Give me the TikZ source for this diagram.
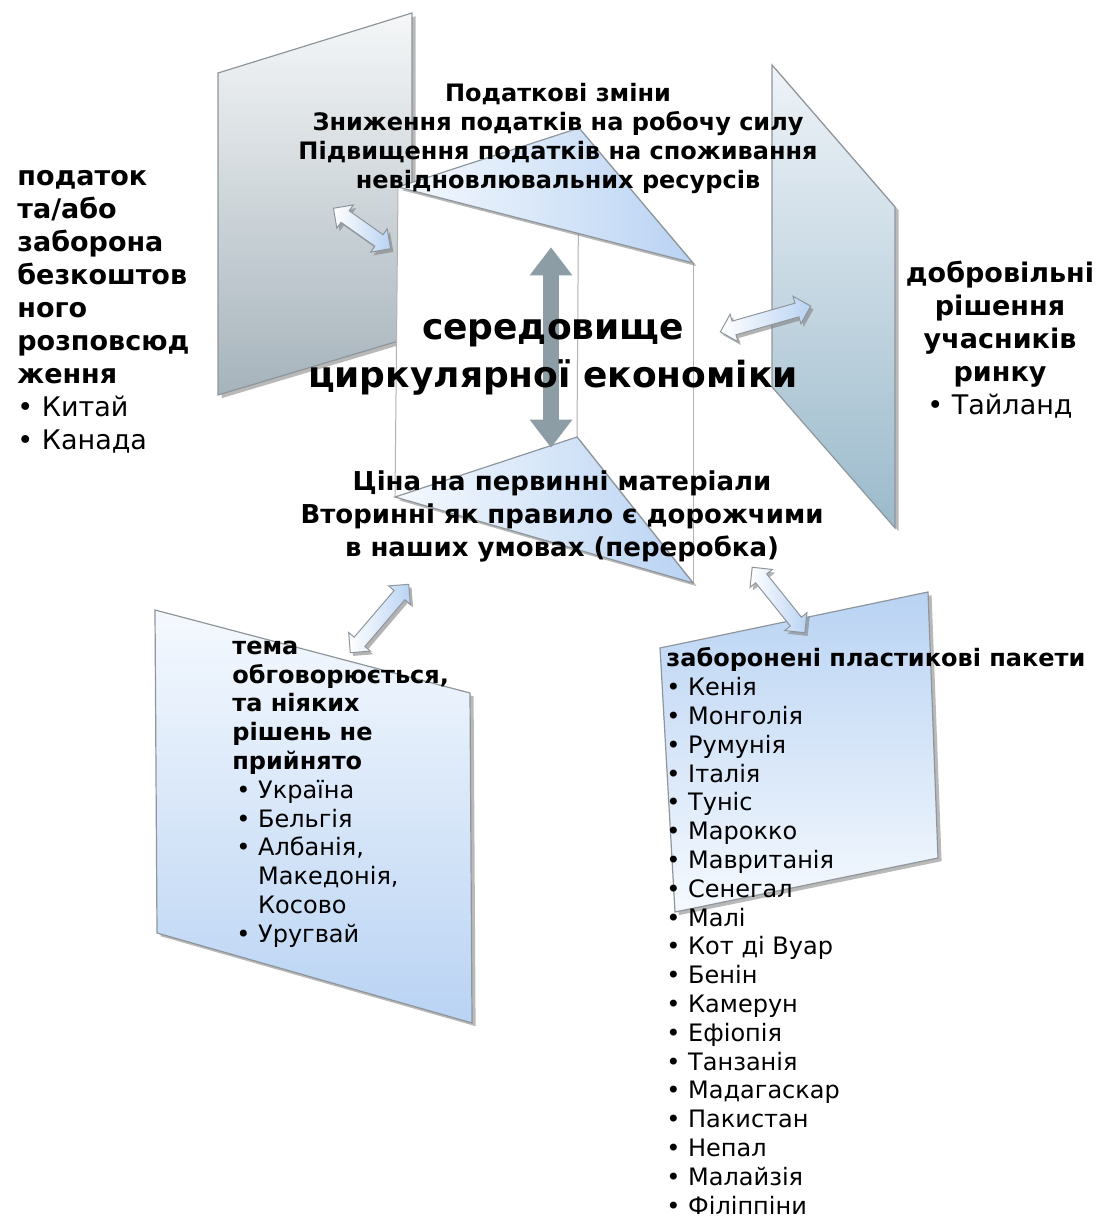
\documentclass[tikz,border=0pt]{standalone}
\usepackage{fontspec}
\setmainfont{DejaVu Sans}
\usepackage{tikz}
\usetikzlibrary{
    arrows.meta,
    positioning,
    shapes.arrows,
    shadows
}
\usepackage{xcolor}

\definecolor{graytop}{HTML}{F5F7F8}
\definecolor{graybot}{HTML}{A6B3BB}
\definecolor{steeltop}{HTML}{EEF3F8}
\definecolor{steelbot}{HTML}{9BBACB}
\definecolor{lightblue}{HTML}{B9D3F3}
\definecolor{paleblue}{HTML}{F5F9FE}
\definecolor{edgegray}{HTML}{8E969C}
\definecolor{arrowgray}{HTML}{8D9DA5}

\newcommand{\bul}{\textbullet\ }

\begin{document}
\begin{tikzpicture}[
        x=0.5pt, y=-0.5pt,
        panel/.style={
            draw=edgegray,
            line width=0.6pt,
            drop shadow={shadow xshift=1.8pt, shadow yshift=-1.6pt, opacity=0.55}
        },
        prism/.style={
            draw=black!30,
            line width=0.5pt
        },
        lightarrow/.style={
            double arrow,
            draw=edgegray,
            line width=0.5pt,
            left color=white,
            right color=lightblue,
            inner xsep=0pt,
            inner ysep=3.3pt,
            double arrow head extend=3.6pt,
            drop shadow={shadow xshift=1.4pt, shadow yshift=-1.6pt, opacity=0.6}
        },
        grayarrow/.style={
            double arrow,
            fill=arrowgray,
            inner xsep=0pt,
            inner ysep=3.75pt,
            double arrow head extend=6.75pt,
            double arrow tip angle=75
        },
        title/.style={
            align=center,
            inner sep=0pt,
            font=\fontsize{12}{14.5}\selectfont\bfseries
        },
        list/.style={
            align=left,
            inner sep=0pt,
            font=\fontsize{12}{14.4}\selectfont
        }
    ]
    \useasboundingbox (0,0) rectangle (1100,1218);

    % panels
    \draw[panel, top color=graytop, bottom color=graybot]
        (218,73) -- (412,13) -- (412,337) -- (218,395) -- cycle;
    \draw[panel, top color=steeltop, bottom color=steelbot]
        (772,65) -- (895,207) -- (895,528) -- (772,387) -- cycle;
    \draw[panel, top color=paleblue, bottom color=lightblue]
        (155,610) -- (470,693) -- (472,1023) -- (157,933) -- cycle;
    \draw[panel, top color=lightblue, bottom color=paleblue]
        (660,648) -- (928,592) -- (938,858) -- (675,912) -- cycle;

    % prism
    \fill[white] (398,187) -- (693,263) -- (693,583) -- (395,497) -- cycle;
    \draw[prism] (398,187) -- (395,497);
    \draw[prism] (579,128) -- (577,437);
    \draw[prism] (693,263) -- (693,583);
    \draw[panel, left color=paleblue, right color=lightblue]
        (398,187) -- (579,128) -- (693,263) -- cycle;
    \draw[panel, left color=paleblue, right color=lightblue]
        (395,497) -- (577,437) -- (693,583) -- cycle;

    % arrows
    \coordinate (la1) at (333,208);
    \coordinate (la2) at (391,249);
    \coordinate (ca1) at (551,248);
    \coordinate (ca2) at (551,447);
    \coordinate (ra1) at (720,332);
    \coordinate (ra2) at (811,306);
    \coordinate (ba1) at (350,653);
    \coordinate (ba2) at (409,584);
    \coordinate (ka1) at (752,567);
    \coordinate (ka2) at (805,633);

    \path (la1) -- (la2) node[midway, sloped, lightarrow,
        minimum height=35pt] (larrow) {};
    \path (ca1) -- (ca2) node[midway, sloped, grayarrow,
        minimum height=100pt] (carrow) {};
    \path (ra1) -- (ra2) node[midway, sloped, lightarrow,
        minimum height=47pt] (rarrow) {};
    \path (ba1) -- (ba2) node[midway, sloped, lightarrow,
        minimum height=45pt] (barrow) {};
    \path (ka1) -- (ka2) node[midway, sloped, lightarrow,
        minimum height=42pt] (karrow) {};

    % texts
    \node[title] (tax) at (558,138) {
        Податкові зміни\\
        Зниження податків на робочу силу\\
        Підвищення податків на споживання\\
        невідновлювальних ресурсів
    };

    \node[list, anchor=west, font=\fontsize{13.5}{16.5}\selectfont] (ban) at (17,312) {
        \textbf{податок}\\
        \textbf{та/або}\\
        \textbf{заборона}\\
        \textbf{безкоштов}\\
        \textbf{ного}\\
        \textbf{розповсюд}\\
        \textbf{ження}\\
        \bul Китай\\
        \bul Канада
    };

    \node[title, font=\fontsize{18}{24}\selectfont\bfseries] (env) at (553,357) {
        середовище\\
        циркулярної економіки
    };

    \node[title, font=\fontsize{13.5}{16.5}\selectfont] (vol) at (1000,340) {
        \textbf{добровільні}\\
        \textbf{рішення}\\
        \textbf{учасників}\\
        \textbf{ринку}\\
        \bul Тайланд
    };

    \node[title, font=\fontsize{13}{16.5}\selectfont\bfseries] (price) at (562,516) {
        Ціна на первинні матеріали\\
        Вторинні як правило є дорожчими\\
        в наших умовах (переробка)
    };

    \node[list, anchor=west] (talk) at (232,794) {
        \textbf{тема}\\
        \textbf{обговорюється,}\\
        \textbf{та ніяких}\\
        \textbf{рішень не}\\
        \textbf{прийнято}\\
        \hspace*{2pt}\bul Україна\\
        \hspace*{2pt}\bul Бельгія\\
        \hspace*{2pt}\bul Албанія,\\
        \hspace*{2pt}\phantom{\bul}Македонія,\\
        \hspace*{2pt}\phantom{\bul}Косово\\
        \hspace*{2pt}\bul Уругвай
    };

    \node[list, anchor=west] (bags) at (666,931) {
        \textbf{заборонені пластикові пакети}\\
        \bul Кенія\\
        \bul Монголія\\
        \bul Румунія\\
        \bul Італія\\
        \bul Туніс\\
        \bul Марокко\\
        \bul Мавританія\\
        \bul Сенегал\\
        \bul Малі\\
        \bul Кот ді Вуар\\
        \bul Бенін\\
        \bul Камерун\\
        \bul Ефіопія\\
        \bul Танзанія\\
        \bul Мадагаскар\\
        \bul Пакистан\\
        \bul Непал\\
        \bul Малайзія\\
        \bul Філіппіни
    };

\end{tikzpicture}
\end{document}
